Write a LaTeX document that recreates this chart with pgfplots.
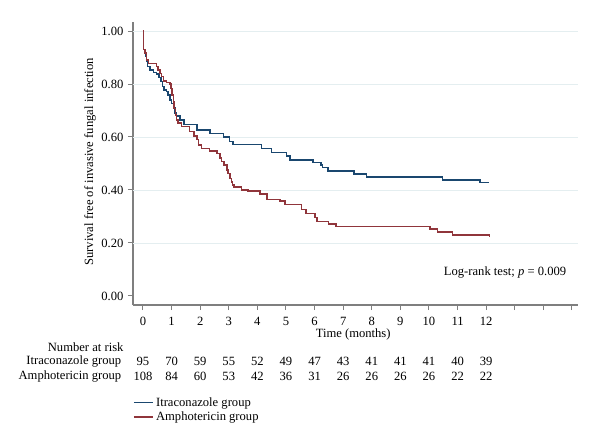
\documentclass[border=0pt]{standalone}
\usepackage{fontspec}
\setmainfont{Liberation Serif}
\usepackage{pgfplots}
\usepackage{pgfplotstable}
\pgfplotsset{compat=1.18}

\definecolor{itrablue}{HTML}{1A476F}
\definecolor{amphored}{HTML}{90353B}
\definecolor{axisgrey}{HTML}{7F7F7F}
\definecolor{gridcol}{HTML}{E4EEF0}

\newcommand{\kmfont}{\fontsize{12.6bp}{14bp}\selectfont}

% Kaplan-Meier estimates: time (months), survival free of IFI
\pgfplotstableread{
t S
0.00 1.000
0.01 0.930
0.09 0.903
0.13 0.884
0.16 0.866
0.24 0.853
0.36 0.843
0.48 0.837
0.56 0.825
0.63 0.809
0.69 0.790
0.73 0.777
0.83 0.771
0.88 0.758
0.94 0.740
1.00 0.727
1.06 0.712
1.12 0.690
1.18 0.680
1.29 0.665
1.43 0.648
1.88 0.626
2.34 0.614
2.81 0.600
3.02 0.583
3.14 0.572
4.15 0.557
4.50 0.541
5.02 0.528
5.14 0.514
5.94 0.504
6.22 0.494
6.28 0.485
6.47 0.472
7.38 0.460
7.82 0.449
10.48 0.438
11.78 0.428
12.10 0.428
}\itra

\pgfplotstableread{
t S
0.00 1.000
0.01 0.930
0.07 0.917
0.13 0.890
0.19 0.878
0.48 0.866
0.53 0.853
0.59 0.840
0.65 0.828
0.71 0.811
0.83 0.806
0.94 0.800
0.98 0.783
1.02 0.758
1.06 0.733
1.09 0.708
1.14 0.683
1.17 0.664
1.23 0.652
1.35 0.640
1.63 0.620
1.79 0.604
1.88 0.590
1.94 0.570
2.05 0.557
2.32 0.548
2.58 0.538
2.69 0.520
2.75 0.507
2.84 0.494
2.93 0.475
2.98 0.463
3.04 0.444
3.10 0.431
3.13 0.419
3.18 0.412
3.45 0.400
3.68 0.396
4.09 0.385
4.33 0.365
4.79 0.358
4.97 0.346
5.55 0.327
5.70 0.312
6.01 0.297
6.09 0.281
6.48 0.272
6.75 0.262
10.03 0.252
10.29 0.242
10.83 0.230
12.10 0.230
12.12 0.224
}\ampho

% Number at risk at each month
\pgfplotstableread{
t itra ampho
0 95 108
1 70 84
2 59 60
3 55 53
4 52 42
5 49 36
6 47 31
7 43 26
8 41 26
9 41 26
10 41 26
11 40 22
12 39 22
}\risk

\begin{document}
\begin{tikzpicture}
\begin{axis}[
  x=28.6bp, y=265bp,
  xmin=-0.35, xmax=15.2, ymin=-0.034, ymax=1.034,
  axis x line*=bottom, axis y line*=left,
  axis line style={-, draw=axisgrey, line width=1.6bp},
  tick align=outside,
  major tick length=5bp,
  tick style={draw=axisgrey, line width=1bp},
  xtick={0,1,...,15},
  xticklabels={0,1,2,3,4,5,6,7,8,9,10,11,12,,,},
  ytick={0,0.2,0.4,0.6,0.8,1},
  yticklabels={0.00,0.20,0.40,0.60,0.80,1.00},
  extra y ticks={0.2,0.4,0.6,0.8,1},
  extra y tick labels={},
  extra y tick style={grid=major, major tick length=0pt},
  major grid style={draw=gridcol, line width=0.8bp},
  ticklabel style={font=\kmfont},
  xticklabel style={yshift=-3.5bp},
  yticklabel style={xshift=-1bp},
  clip=false,
  legend style={at={(axis cs:-0.35,-0.375)}, anchor=north west, draw=none,
    fill=none, inner sep=0pt, row sep=0.3bp, font=\kmfont},
  legend cell align=left,
  legend image code/.code={\draw[#1] (0bp,0bp) -- (19.4bp,0bp);},
]
\addplot[const plot, color=itrablue, line width=1.5bp] table[x=t, y=S] {\itra};
\addlegendentry{Itraconazole group}
\addplot[const plot, color=amphored, line width=1.5bp] table[x=t, y=S] {\ampho};
\addlegendentry{Amphotericin group}

% number-at-risk rows
\addplot[forget plot, draw=none, mark=none, nodes near coords,
  point meta=explicit symbolic,
  nodes near coords style={anchor=center, font=\kmfont}]
  table[x=t, y expr=-0.248, meta=itra] {\risk};
\addplot[forget plot, draw=none, mark=none, nodes near coords,
  point meta=explicit symbolic,
  nodes near coords style={anchor=center, font=\kmfont}]
  table[x=t, y expr=-0.305, meta=ampho] {\risk};

\begin{scope}[font=\kmfont]
\node[rotate=90] at (axis cs:-1.85,0.506) {Survival free of invasive fungal infection};
\node at (axis cs:7.35,-0.147) {Time (months)};
\node[anchor=east] at (axis cs:-0.56,-0.192) {Number at risk};
\node[anchor=east] at (axis cs:-0.64,-0.248) {Itraconazole group};
\node[anchor=east] at (axis cs:-0.64,-0.305) {Amphotericin group};
\node at (axis cs:12.66,0.088) {Log-rank test; \textit{p} = 0.009};
\end{scope}

\coordinate (bbsw) at (axis cs:-5.0,-0.5585);
\coordinate (bbne) at (axis cs:15.98,1.117);
\end{axis}
\path (bbsw) rectangle (bbne);
\end{tikzpicture}
\end{document}
